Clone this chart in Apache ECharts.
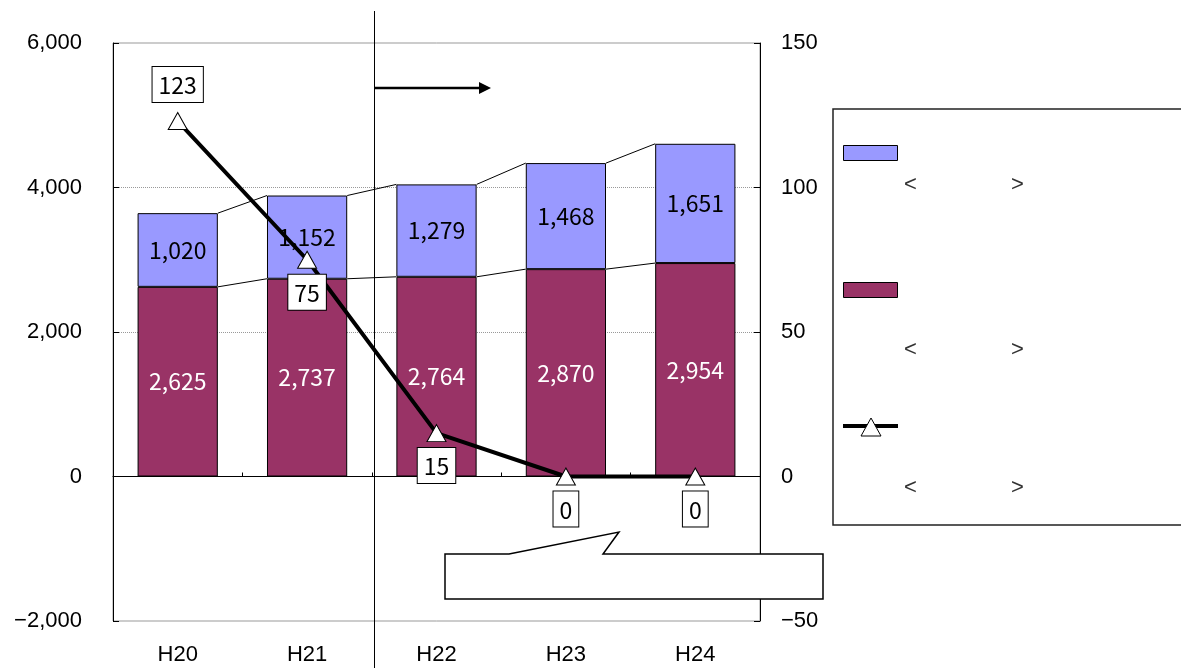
<!DOCTYPE html>
<html>
<head>
<meta charset="utf-8">
<script src="https://cdn.jsdelivr.net/npm/echarts@6/dist/echarts.min.js"></script>
<style>
  html, body { margin: 0; padding: 0; background: #fff; }
  #chart { width: 1181px; height: 668px; }
</style>
</head>
<body>
<div id="chart"></div>
<script>
// Fiscal years (Heisei)
const categories = ['H20', 'H21', 'H22', 'H23', 'H24'];
// Lower stacked segment (left axis)
const lowerValues = [2625, 2737, 2764, 2870, 2954];
// Upper stacked segment (left axis)
const upperValues = [1020, 1152, 1279, 1468, 1651];
// Line values (right axis)
const lineValues = [123, 75, 15, 0, 0];
// Axis ranges: [min, max, interval]
const leftAxisRange = [-2000, 6000, 2000];
const rightAxisRange = [-50, 150, 50];

const LABEL_FONT = "'Noto Sans CJK JP', 'Noto Sans', sans-serif";
const AXIS_FONT = "'Liberation Sans', Arial, sans-serif";
const fmtNum = v => (v < 0 ? '\u2212' : '') + Math.abs(v).toLocaleString('en-US');

// Connectors between neighbouring stacks: [index, lower_i, lower_i+1, total_i, total_i+1]
const connectorData = categories.slice(0, -1).map((c, i) => [
  i,
  lowerValues[i], lowerValues[i + 1],
  lowerValues[i] + upperValues[i], lowerValues[i + 1] + upperValues[i + 1]
]);
const BAR_RATIO = 0.62;

const chart = echarts.init(document.getElementById('chart'), null, { renderer: 'canvas' });

const bracket = (x, y, ch) => ({
  type: 'text', z: 51, x: x, y: y,
  style: { text: ch, fontSize: 22, fill: '#333', fontFamily: AXIS_FONT, verticalAlign: 'middle' }
});

const option = {
  animation: false,
  backgroundColor: '#fff',
  textStyle: { fontFamily: LABEL_FONT },
  grid: {
    left: 113, right: 421, top: 43, bottom: 47,
    show: true, borderColor: '#999', borderWidth: 1, backgroundColor: 'transparent'
  },
  xAxis: [
    {
      type: 'category',
      data: categories,
      position: 'bottom',
      axisLine: { show: true, onZero: true, lineStyle: { color: '#000', width: 1 } },
      axisTick: { show: true, inside: true, length: 4, lineStyle: { color: '#000' } },
      axisLabel: { show: false },
      splitLine: { show: false }
    },
    {
      type: 'category',
      data: categories,
      position: 'bottom',
      axisLine: { show: false, onZero: false },
      axisTick: { show: false },
      axisLabel: { show: true, margin: 23, fontSize: 22, color: '#000', fontFamily: AXIS_FONT },
      splitLine: { show: false }
    }
  ],
  yAxis: [
    {
      type: 'value',
      position: 'left',
      min: leftAxisRange[0], max: leftAxisRange[1], interval: leftAxisRange[2],
      axisLine: { show: true, lineStyle: { color: '#000', width: 1 } },
      axisTick: { show: true, inside: true, length: 6, lineStyle: { color: '#000' } },
      axisLabel: {
        margin: 31, fontSize: 22, color: '#000', fontFamily: AXIS_FONT,
        padding: [4, 0, 0, 0], formatter: fmtNum
      },
      splitLine: {
        show: true, showMinLine: false, showMaxLine: false,
        lineStyle: { color: '#999', type: [1, 1], width: 1 }
      }
    },
    {
      type: 'value',
      position: 'right',
      min: rightAxisRange[0], max: rightAxisRange[1], interval: rightAxisRange[2],
      axisLine: { show: true, lineStyle: { color: '#000', width: 1 } },
      axisTick: { show: true, inside: true, length: 6, lineStyle: { color: '#000' } },
      axisLabel: {
        margin: 21, fontSize: 22, color: '#000', fontFamily: AXIS_FONT,
        padding: [4, 0, 0, 0], formatter: fmtNum
      },
      splitLine: { show: false }
    }
  ],
  series: [
    {
      name: 'lower',
      type: 'bar',
      stack: 'total',
      xAxisIndex: 0, yAxisIndex: 0,
      barWidth: (BAR_RATIO * 100) + '%',
      data: lowerValues,
      itemStyle: { color: '#993366', borderColor: '#000', borderWidth: 1 },
      label: {
        show: true, position: 'inside', color: '#fff', fontSize: 23, fontFamily: LABEL_FONT,
        formatter: p => fmtNum(p.value)
      },
      z: 2
    },
    {
      name: 'upper',
      type: 'bar',
      stack: 'total',
      xAxisIndex: 0, yAxisIndex: 0,
      barWidth: (BAR_RATIO * 100) + '%',
      data: upperValues,
      itemStyle: { color: '#9999FF', borderColor: '#000', borderWidth: 1 },
      label: {
        show: true, position: 'inside', color: '#000', fontSize: 23, fontFamily: LABEL_FONT,
        formatter: p => fmtNum(p.value)
      },
      z: 2
    },
    {
      name: 'connectors',
      type: 'custom',
      xAxisIndex: 0, yAxisIndex: 0,
      silent: true,
      z: 1,
      data: connectorData,
      encode: { x: 0, y: [1, 2, 3, 4] },
      renderItem: (params, api) => {
        const i = api.value(0);
        const half = api.size([1, 0])[0] * BAR_RATIO / 2;
        const a1 = api.coord([i, api.value(1)]);
        const a2 = api.coord([i + 1, api.value(2)]);
        const b1 = api.coord([i, api.value(3)]);
        const b2 = api.coord([i + 1, api.value(4)]);
        const st = { stroke: '#000', lineWidth: 1, fill: null };
        return {
          type: 'group',
          children: [
            { type: 'line', shape: { x1: a1[0] + half, y1: a1[1], x2: a2[0] - half, y2: a2[1] }, style: st },
            { type: 'line', shape: { x1: b1[0] + half, y1: b1[1], x2: b2[0] - half, y2: b2[1] }, style: st }
          ]
        };
      }
    },
    {
      name: 'line',
      type: 'line',
      xAxisIndex: 0, yAxisIndex: 1,
      data: lineValues.map((v, i) => i === 0
        ? { value: v, label: { position: 'top', distance: 10 } }
        : v),
      symbol: 'triangle',
      symbolSize: [19, 17],
      showAllSymbol: true,
      lineStyle: { color: '#000', width: 4 },
      itemStyle: { color: '#fff', borderColor: '#000', borderWidth: 1 },
      label: {
        show: true, position: 'bottom', distance: 6,
        color: '#000', fontSize: 23, fontFamily: LABEL_FONT,
        backgroundColor: '#fff', borderColor: '#000', borderWidth: 1,
        padding: [7, 6, 5, 6],
        formatter: p => String(p.value)
      },
      z: 5
    }
  ],
  graphic: [
    // divider between H21 and H22
    { type: 'line', z: 50, shape: { x1: 374.5, y1: 11, x2: 374.5, y2: 668 }, style: { stroke: '#000', lineWidth: 1 } },
    // arrow
    { type: 'line', z: 50, shape: { x1: 374, y1: 88, x2: 481, y2: 88 }, style: { stroke: '#000', lineWidth: 2.5 } },
    { type: 'polygon', z: 50, shape: { points: [[479, 82], [491, 88], [479, 94]] }, style: { fill: '#000' } },
    // legend frame and keys
    { type: 'rect', z: 50, shape: { x: 833, y: 109, width: 400, height: 416 }, style: { fill: '#fff', stroke: '#222', lineWidth: 1.5 } },
    { type: 'rect', z: 51, shape: { x: 843.5, y: 145.5, width: 54, height: 15 }, style: { fill: '#9999FF', stroke: '#000', lineWidth: 1 } },
    { type: 'rect', z: 51, shape: { x: 843.5, y: 282.5, width: 54, height: 15 }, style: { fill: '#993366', stroke: '#000', lineWidth: 1 } },
    { type: 'line', z: 51, shape: { x1: 843, y1: 426, x2: 898, y2: 426 }, style: { stroke: '#000', lineWidth: 4 } },
    { type: 'polygon', z: 52, shape: { points: [[871, 418], [881, 436], [861, 436]] }, style: { fill: '#fff', stroke: '#000', lineWidth: 1 } },
    bracket(904, 185, '<'), bracket(1011, 185, '>'),
    bracket(904, 350, '<'), bracket(1011, 350, '>'),
    bracket(904, 488, '<'), bracket(1011, 488, '>'),
    // callout box
    {
      type: 'polygon', z: 60,
      shape: { points: [[445, 554], [509, 554], [619, 532], [603, 554], [823, 554], [823, 599], [445, 599]] },
      style: { fill: '#fff', stroke: '#000', lineWidth: 1.5 }
    }
  ]
};

chart.setOption(option);
</script>
</body>
</html>
